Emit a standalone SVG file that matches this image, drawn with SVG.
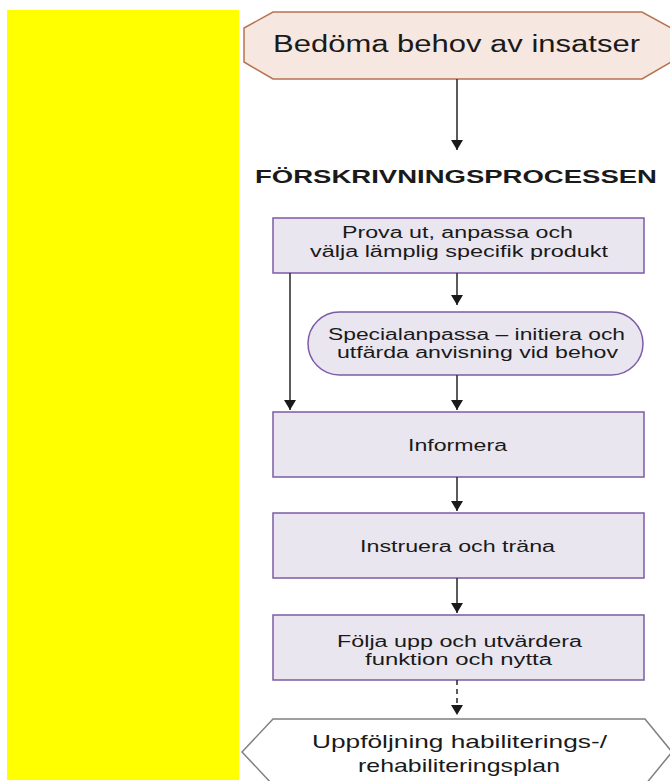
<svg xmlns="http://www.w3.org/2000/svg" width="670" height="781" viewBox="0 0 670 781">
<defs>
<marker id="ah" viewBox="0 0 10 12" refX="10" refY="6" markerWidth="10" markerHeight="12" markerUnits="userSpaceOnUse" orient="auto">
<path d="M0,0 L10,6 L0,12 Z" fill="#1a1a1a"/>
</marker>
<style>
text{font-family:"Liberation Sans",Arial,sans-serif;fill:#1a1a1a;text-anchor:middle}
.box{fill:#e9e6f0;stroke:#7d5ba6;stroke-width:1.5}
.lbl{font-size:16px}
.con{stroke:#333;stroke-width:1.6;fill:none;marker-end:url(#ah)}
</style>
</defs>
<rect x="7" y="10" width="232" height="770" fill="#ffff00"/>
<g id="n-bedoma">
<polygon points="273,12 642,12 671,28 671,62 642,79 273,79 244,62 244,28" fill="#f6e7e1" stroke="#b8734f" stroke-width="1.5"/>
<text x="456.5" y="52" style="font-size:23px" textLength="367" lengthAdjust="spacingAndGlyphs">Bedöma behov av insatser</text>
</g>
<g id="n-title">
<text x="456" y="183" style="font-size:18.5px;font-weight:bold" textLength="402" lengthAdjust="spacingAndGlyphs">FÖRSKRIVNINGSPROCESSEN</text>
</g>
<g id="n-prova">
<rect class="box" x="273" y="218" width="371" height="55"/>
<text class="lbl" x="457.5" y="238" textLength="231" lengthAdjust="spacingAndGlyphs">Prova ut, anpassa och</text>
<text class="lbl" x="459" y="257" textLength="298" lengthAdjust="spacingAndGlyphs">välja lämplig specifik produkt</text>
</g>
<g id="n-special">
<rect class="box" x="308" y="312" width="335" height="63" rx="31.5" ry="31.5"/>
<text class="lbl" x="476.5" y="340" textLength="297" lengthAdjust="spacingAndGlyphs">Specialanpassa – initiera och</text>
<text class="lbl" x="477.5" y="358" textLength="281" lengthAdjust="spacingAndGlyphs">utfärda anvisning vid behov</text>
</g>
<g id="n-informera">
<rect class="box" x="273" y="412" width="371" height="65"/>
<text class="lbl" x="457.5" y="451" textLength="99" lengthAdjust="spacingAndGlyphs">Informera</text>
</g>
<g id="n-instruera">
<rect class="box" x="273" y="513" width="371" height="65"/>
<text class="lbl" x="457.5" y="552" textLength="195" lengthAdjust="spacingAndGlyphs">Instruera och träna</text>
</g>
<g id="n-folja">
<rect class="box" x="273" y="615" width="371" height="65"/>
<text class="lbl" x="459.5" y="647" textLength="245" lengthAdjust="spacingAndGlyphs">Följa upp och utvärdera</text>
<text class="lbl" x="458.5" y="665" textLength="187" lengthAdjust="spacingAndGlyphs">funktion och nytta</text>
</g>
<g id="n-uppfoljning">
<polygon points="273,719 645,719 672,752 645,785 273,785 242,752" fill="#ffffff" stroke="#808080" stroke-width="1.5"/>
<text x="459.5" y="748" style="font-size:19px" textLength="295" lengthAdjust="spacingAndGlyphs">Uppföljning habiliterings-/</text>
<text x="459" y="772" style="font-size:19px" textLength="202" lengthAdjust="spacingAndGlyphs">rehabiliteringsplan</text>
</g>
<g id="connectors">
<line class="con" x1="457" y1="79" x2="457" y2="150"/>
<line class="con" x1="457" y1="273" x2="457" y2="305"/>
<line class="con" x1="290" y1="273" x2="290" y2="410"/>
<line class="con" x1="457" y1="375" x2="457" y2="410"/>
<line class="con" x1="457" y1="477" x2="457" y2="511"/>
<line class="con" x1="457" y1="578" x2="457" y2="613"/>
<line class="con" x1="457" y1="680" x2="457" y2="715" stroke-dasharray="5,4"/>
</g>
</svg>
